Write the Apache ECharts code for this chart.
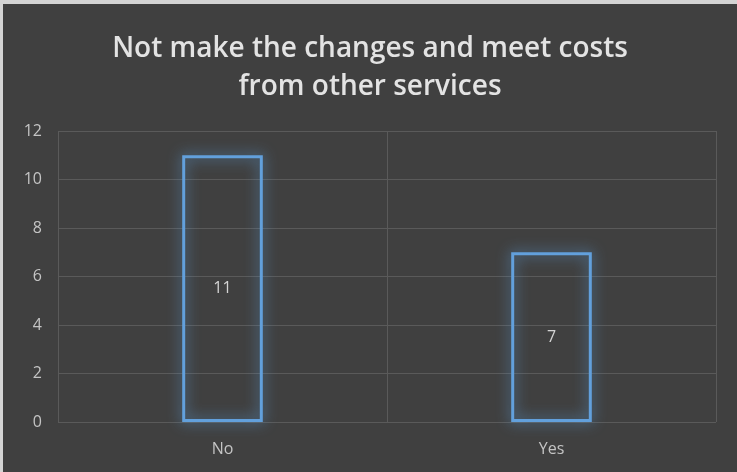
<!DOCTYPE html>
<html>
<head>
<meta charset="utf-8">
<script src="https://cdn.jsdelivr.net/npm/echarts@6/dist/echarts.min.js"></script>
<style>
html,body{margin:0;padding:0;background:#d4d4d4;width:737px;height:472px;overflow:hidden;}
#chart{position:absolute;left:3px;top:4px;width:734px;height:468px;background:#404040;}
</style>
</head>
<body>
<div id="chart"></div>
<script>
const titleText = 'Not make the changes and meet costs\nfrom other services';
const categories = ['No', 'Yes'];
const values = [11, 7];
const yTicks = { min: 0, max: 12, interval: 2 };

const chart = echarts.init(document.getElementById('chart'), null, { renderer: 'canvas' });
chart.setOption({
  backgroundColor: '#404040',
  animation: false,
  title: {
    text: titleText,
    left: 'center',
    top: 21,
    textStyle: {
      color: '#e3e3e3',
      fontSize: 28,
      fontWeight: 600,
      fontFamily: 'Open Sans',
      lineHeight: 38
    }
  },
  grid: { left: 55, right: 21, top: 127, bottom: 50, containLabel: false },
  xAxis: {
    type: 'category',
    data: categories,
    axisLine: { show: false },
    axisTick: { show: false },
    splitLine: { show: true, lineStyle: { color: '#5a5a5a', width: 1 } },
    axisLabel: { color: '#c4c4c4', fontSize: 16, fontFamily: 'Open Sans', margin: 19 }
  },
  yAxis: {
    type: 'value',
    min: yTicks.min,
    max: yTicks.max,
    interval: yTicks.interval,
    axisLine: { show: false },
    axisTick: { show: false },
    splitLine: { show: true, lineStyle: { color: '#5a5a5a', width: 1 } },
    axisLabel: { color: '#c4c4c4', fontSize: 16, fontFamily: 'Open Sans', margin: 16 }
  },
  series: [{
    type: 'bar',
    data: values,
    barWidth: '24.5%',
    itemStyle: {
      color: 'rgba(0,0,0,0)',
      borderColor: '#62a0dc',
      borderWidth: 3,
      shadowBlur: 14,
      shadowColor: 'rgba(91,155,213,1)'
    },
    label: {
      show: true,
      position: 'inside',
      color: '#d4d4d4',
      fontSize: 16,
      fontFamily: 'Open Sans'
    }
  }]
});
</script>
</body>
</html>
